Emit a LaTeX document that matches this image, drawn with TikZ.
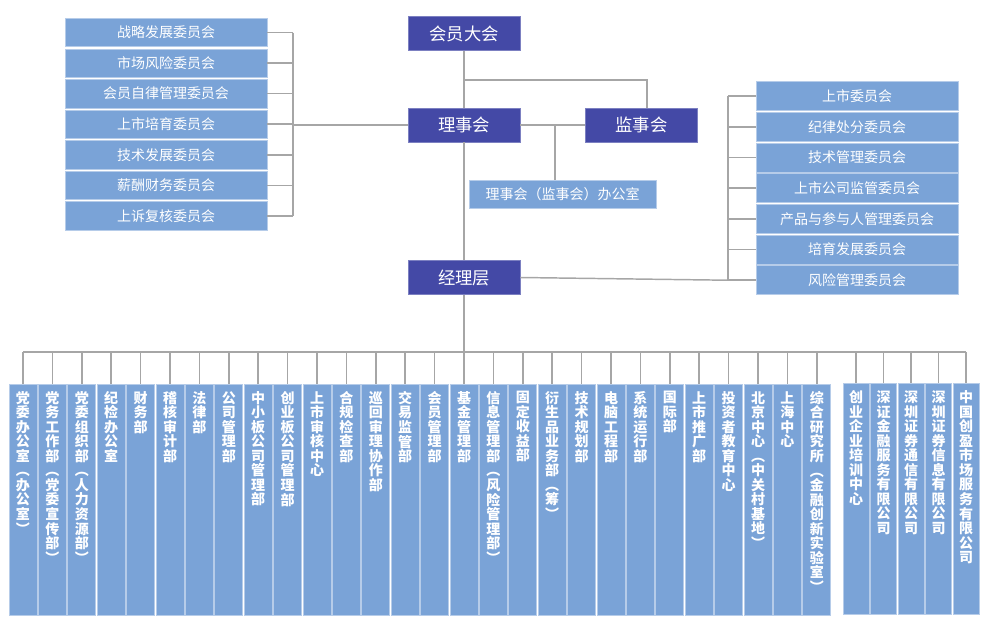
\documentclass[tikz,border=0pt]{standalone}
\usepackage{fontspec}
\setmainfont{Noto Sans CJK SC}
\setlength{\parskip}{0pt}
\definecolor{darkfill}{HTML}{4449A6}
\definecolor{lightfill}{HTML}{7AA3D7}
\definecolor{lncol}{HTML}{A6A6A6}
\makeatletter
\newcommand\vstack[1]{\expandafter\vs@loop\expandafter{#1}}
\newcommand\vs@loop[1]{\@tfor\vs@c:=#1\do{\vs@c\par}}
\makeatother
\begin{document}
\begin{tikzpicture}[x=0.75pt,y=-0.75pt,
 darkbox/.style={fill=darkfill,draw=darkfill!70!white,line width=0.5pt,text=white,minimum width=84pt,minimum height=25.5pt,inner sep=0pt,font=\fontsize{13pt}{15pt}\selectfont},
 combox/.style={fill=lightfill,draw=lightfill!55!white,line width=0.5pt,text=white,inner sep=0pt,minimum width=151.5pt,font=\fontsize{10.5pt}{12pt}\selectfont},
 deptbox/.style={fill=lightfill,draw=lightfill!55!white,line width=0.5pt,inner sep=0pt,minimum height=173.25pt},
 depttext/.style={text=white,anchor=north,inner sep=0pt,text width=10.5pt,align=center,font=\fontsize{10.5pt}{10.9pt}\selectfont\bfseries},
 connline/.style={draw=lncol,line width=1.1pt}
]
\useasboundingbox (0,0) rectangle (990,629);

% top nodes
\node[darkbox] (HY) at (464,33.5) {会员大会};
\node[darkbox] (LSH) at (464,125) {理事会};
\node[darkbox] (JS) at (641.5,125) {监事会};
\node[darkbox] (JL) at (464,277.5) {经理层};
\node[combox,minimum width=140.25pt,minimum height=21pt] (OF) at (562.5,194) {理事会（监事会）办公室};

% left committees
\foreach \t [count=\i] in {战略发展委员会,市场风险委员会,会员自律管理委员会,上市培育委员会,技术发展委员会,薪酬财务委员会,上诉复核委员会}
  \node[combox,minimum height=21.3pt] (L\i) at (166,{32.5+30.57*(\i-1)}) {\t};
% right committees
\foreach \t [count=\i] in {上市委员会,纪律处分委员会,技术管理委员会,上市公司监管委员会,产品与参与人管理委员会,培育发展委员会,风险管理委员会}
  \node[combox,minimum height=21.75pt] (R\i) at (857,{96.2+30.67*(\i-1)}) {\t};

% bottom departments
\foreach \t [count=\i] in {党委办公室︵办公室︶,党务工作部︵党委宣传部︶,党委组织部︵人力资源部︶,纪检办公室,财务部,稽核审计部,法律部,公司管理部,中小板公司管理部,创业板公司管理部,上市审核中心,合规检查部,巡回审理协作部,交易监管部,会员管理部,基金管理部,信息管理部︵风险管理部︶,固定收益部,衍生品业务部︵筹︶,技术规划部,电脑工程部,系统运行部,国际部,上市推广部,投资者教育中心,北京中心︵中关村基地︶,上海中心,综合研究所︵金融创新实验室︶}
  {\node[deptbox,minimum width=21pt] (D\i) at ({23+29.4*(\i-1)},499.5) {};
   \node[depttext] at ([yshift=-5.5pt]D\i.north) {\vstack{\t}};}
\foreach \t [count=\i from 29] in {创业企业培训中心,深证金融服务有限公司,深圳证券通信有限公司,深圳证券信息有限公司,中国创盈市场服务有限公司}
  {\node[deptbox,minimum width=19.5pt] (D\i) at ({856+27.5*(\i-29)},499) {};
   \node[depttext] at ([yshift=-5.5pt]D\i.north) {\vstack{\t}};}

% connectors
\coordinate (lb) at (293,125);
\coordinate (rb) at (728,280);
\coordinate (j1) at (464,80);
\coordinate (j2) at (647,80);
\coordinate (j3) at (555,125);
\coordinate (bus) at (464,352);

\draw[connline] (HY.south) -- (LSH.north);
\draw[connline] (j1) -- (j2) -- (j2 |- JS.north);
\draw[connline] (LSH.east) -- (JS.west);
\draw[connline] (j3) -- (j3 |- OF.north);
\draw[connline] (LSH.south) -- (JL.north);
\draw[connline] (LSH.west) -- (LSH.west -| lb);
\foreach \i in {1,...,7} \draw[connline] (L\i.east) -- (L\i.east -| lb);
\draw[connline] (L1.east -| lb) -- (L7.east -| lb);
\foreach \i in {1,...,7} \draw[connline] (R\i.west -| rb) -- (R\i.west);
\draw[connline] (R1.west -| rb) -- (R7.west -| rb);
\draw[connline] (JL.east) -- (R7.west -| rb);
\draw[connline] (JL.south) -- (bus);
\draw[connline] (D1.north |- bus) -- (D33.north |- bus);
\foreach \i in {1,...,33} \draw[connline] (D\i.north |- bus) -- (D\i.north);
\end{tikzpicture}
\end{document}
